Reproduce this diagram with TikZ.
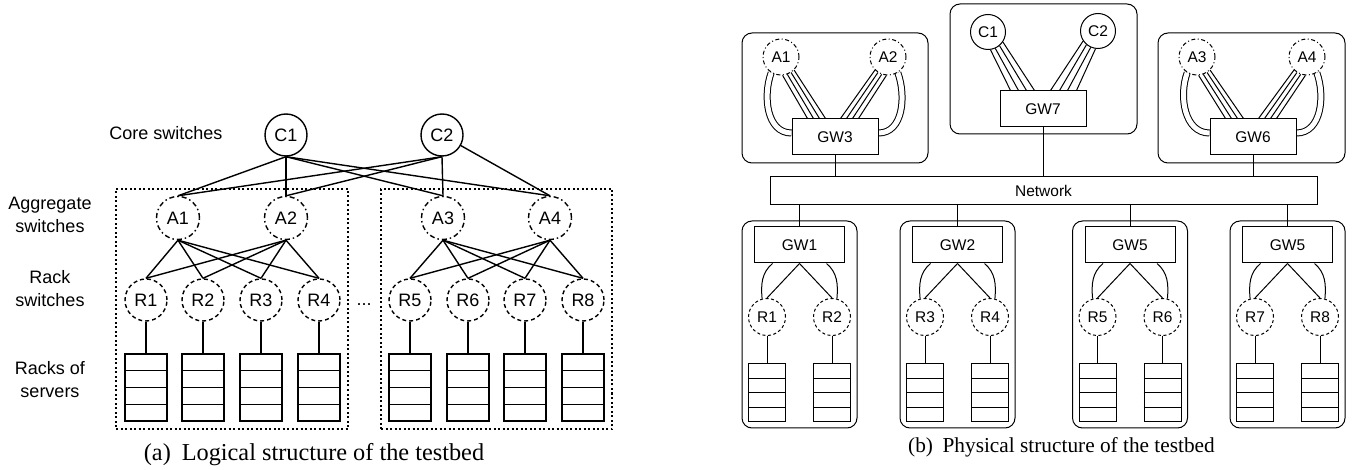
\documentclass[tikz,border=0pt]{standalone}
\usepackage{fontspec}
\setmainfont{Liberation Serif}
\setsansfont{Liberation Sans}
\usetikzlibrary{calc,backgrounds}
\begin{document}
\begin{tikzpicture}[x=1pt,y=-1pt,
  fa/.style={font=\sffamily\fontsize{18}{23}\selectfont},
  fb/.style={font=\sffamily\fontsize{15.5}{18}\selectfont},
  lineA/.style={line width=1.4pt},
  lineB/.style={line width=1pt},
  lbl/.style={fa, align=center},
  core/.style={circle, draw, fa, lineA, minimum size=42pt, inner sep=0pt},
  agg/.style={core, minimum size=43pt, dash pattern=on 5pt off 3pt on 1.5pt off 3pt},
  rsw/.style={core, dash pattern=on 4pt off 3pt},
  rackA/.style={draw, lineA, minimum width=42pt, minimum height=67pt, inner sep=0pt},
  grp/.style={draw, lineA, dash pattern=on 2pt off 2.5pt, minimum width=232pt, minimum height=240pt, inner sep=0pt},
  bcore/.style={circle, draw, fb, lineB, minimum size=35pt, inner sep=0pt},
  bagg/.style={bcore, minimum size=36pt, dash pattern=on 4pt off 2.5pt on 1pt off 2.5pt},
  brsw/.style={bcore, minimum size=37pt, dash pattern=on 3pt off 2.5pt},
  gw/.style={draw, lineB, fb, minimum width=86pt, minimum height=36pt, inner sep=0pt},
  gwb/.style={gw, minimum width=90pt},
  site/.style={draw, lineB, rounded corners=10pt, inner sep=0pt},
  rackB/.style={draw, lineB, minimum width=37pt, minimum height=58pt, inner sep=0pt},
  capa/.style={font=\rmfamily\fontsize{24.3}{28}\selectfont},
  capb/.style={font=\rmfamily\fontsize{21.3}{25}\selectfont}
]
\useasboundingbox (0,0) rectangle (1353,470);

% ---------------- (a) logical structure ----------------
\node[lbl] (tcore) at (166,133) {Core switches};
\node[lbl] (tagg)  at (50,215) {Aggregate\\switches};
\node[lbl] (track) at (50,289) {Rack\\switches};
\node[lbl] (tsrv)  at (50,380) {Racks of\\servers};

\node[grp] (gl) at (232,309) {};
\node[grp, minimum width=231pt] (gr) at (496.5,309) {};

\node[core] (c1) at (286,135) {C1};
\node[core] (c2) at (442,135) {C2};

\node[agg] (a1) at (178,218) {A1};
\node[agg] (a2) at (286,218) {A2};
\node[agg] (a3) at (443,218) {A3};
\node[agg] (a4) at (550,218) {A4};

\foreach \i/\x in {1/146,2/203,3/261,4/319,5/410,6/468,7/525,8/583} {
  \node[rsw] (r\i) at (\x,300) {R\i};
  \node[rackA] (k\i) at (\x,387.5) {};
  \foreach \f in {0.25,0.5,0.75}
    \draw[lineA] ($(k\i.north west)!\f!(k\i.south west)$) -- ($(k\i.north east)!\f!(k\i.south east)$);
}
\node[fa, anchor=base] (dots) at (364,306) {...};

\begin{scope}[on background layer]
\begin{scope}[lineA]
  \foreach \a in {a1,a2,a3,a4} \draw (c1.south) -- (\a.north);
  \foreach \a in {a1,a2,a3} \draw (c2.south) -- (\a.north);
  \draw (c2) -- (a4.north);
  \foreach \a in {a1,a2} \foreach \r in {r1,r2,r3,r4} \draw (\a.south) -- (\r.north);
  \foreach \a in {a3,a4} \foreach \r in {r5,r6,r7,r8} \draw (\a.south) -- (\r.north);
  \foreach \i in {1,...,8} \draw (r\i.south) -- (k\i.north);
\end{scope}
\end{scope}

\node[capa] (capA) at (314,455) {(a)\hspace{0.45em}Logical structure of the testbed};

% ---------------- (b) physical structure ----------------
% aggregation sites
\node[site, minimum width=186pt, minimum height=130pt] (sA) at (835,98) {};
\node[site, minimum width=187pt, minimum height=130pt] (sC) at (1043.5,69) {};
\node[site, minimum width=187pt, minimum height=130pt] (sB) at (1251.5,98) {};

\node[bagg] (bA1) at (781,57) {A1};
\node[bagg] (bA2) at (888,57) {A2};
\node[gw] (bGW3) at (835,137) {GW3};

\node[bcore] (bC1) at (988,32) {C1};
\node[bcore] (bC2) at (1098,31) {C2};
\node[gw] (bGW7) at (1043,109) {GW7};

\node[bagg] (bA3) at (1197,57) {A3};
\node[bagg] (bA4) at (1307,57) {A4};
\node[gw] (bGW6) at (1253,137) {GW6};

\node[draw, lineB, fb, minimum width=547pt, minimum height=28pt, inner sep=0pt] (net) at (1043.5,191) {Network};

\begin{scope}[on background layer]
\begin{scope}[lineB]
  % link bundles and loops inside the aggregation sites
  \foreach \l/\r/\g in {bA1/bA2/bGW3, bA3/bA4/bGW6} {
    \foreach \a/\dx in {-85/16,-70/22,-57/28,-45/34}
      \draw (\l.\a) -- ($(\g.north west)+(\dx,0)$);
    \foreach \a/\dx in {-95/-20,-110/-26,-123/-32,-135/-38}
      \draw (\r.\a) -- ($(\g.north east)+(\dx,0)$);
    \draw[double, double distance=5pt] (\l.-122) to[out=-110, in=180] ($(\g.west)+(0,-4)$);
    \draw[double, double distance=5pt] (\r.-58) to[out=-70, in=0] ($(\g.east)+(0,-4)$);
  }
  \foreach \a/\dx in {-82/11,-66/19,-50/27,-34/35}
    \draw (bC1.\a) -- ($(bGW7.north west)+(\dx,0)$);
  \foreach \a/\dx in {-98/-10,-114/-19,-130/-27,-146/-36}
    \draw (bC2.\a) -- ($(bGW7.north east)+(\dx,0)$);
  \foreach \g in {bGW3,bGW7,bGW6}
    \draw (\g.south) -- (\g.south |- net.north);
\end{scope}
\end{scope}

% rack sites
\foreach \i/\cx/\gn/\ra/\rb in {1/799.5/GW1/1/2, 2/957.5/GW2/3/4, 3/1130/GW5/5/6, 4/1287.5/GW5/7/8} {
  \node[site, minimum width=115pt, minimum height=207pt] (s\i) at (\cx,324.5) {};
  \node[gwb] (g\i) at (\cx,245) {\gn};
  \node[brsw] (br\ra) at (\cx-32.5,317) {R\ra};
  \node[brsw] (br\rb) at (\cx+32.5,317) {R\rb};
  \node[rackB] (bk\ra) at (\cx-32.5,393) {};
  \node[rackB] (bk\rb) at (\cx+32.5,393) {};
  \foreach \k in {bk\ra,bk\rb}
    \foreach \f in {0.25,0.5,0.75}
      \draw[lineB] ($(\k.north west)!\f!(\k.south west)$) -- ($(\k.north east)!\f!(\k.south east)$);
  \begin{scope}[on background layer]
  \begin{scope}[lineB]
    \draw (g\i.north) -- (g\i.north |- net.south);
    \draw (g\i.south) -- (br\ra.north);
    \draw (g\i.south) -- (br\rb.north);
    \draw ($(g\i.south)+(-27,0)$) to[out=-140, in=95] (br\ra.105);
    \draw ($(g\i.south)+(27,0)$) to[out=-40, in=85] (br\rb.75);
    \draw (br\ra.south) -- (bk\ra.north);
    \draw (br\rb.south) -- (bk\rb.north);
  \end{scope}
  \end{scope}
}

\node[capb] (capB) at (1061.5,447) {(b)\hspace{0.45em}Physical structure of the testbed};
\end{tikzpicture}
\end{document}
